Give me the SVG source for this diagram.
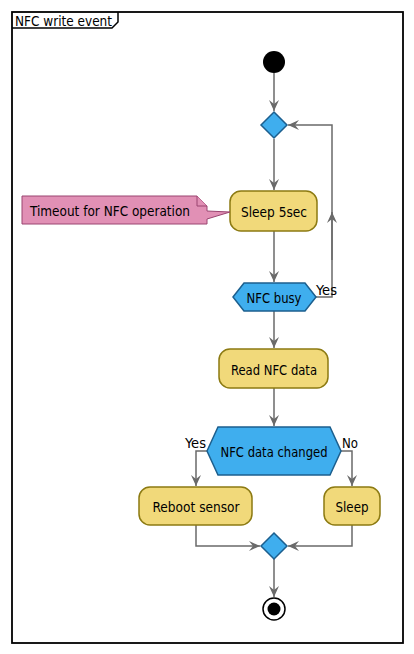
<svg xmlns="http://www.w3.org/2000/svg" width="414" height="654" viewBox="0 0 414 654">
<defs>
<style>
text{font-family:"DejaVu Sans Condensed","DejaVu Sans","Liberation Sans",sans-serif;font-size:14.5px;fill:#000}
.act{fill:#F1D97A;stroke:#8C7A12;stroke-width:1.5}
.dec{fill:#3FAEEE;stroke:#1C5F8E;stroke-width:1.5}
.note{fill:#E190B5;stroke:#9A4470;stroke-width:1}
.ln{fill:none;stroke:#6A6A6A;stroke-width:1.5}
.c{text-anchor:middle}
</style>
<marker id="ah" viewBox="0 0 12 10" refX="11" refY="5" markerWidth="12" markerHeight="10" markerUnits="userSpaceOnUse" orient="auto">
<path d="M0,0 L11,5 L0,10 L4,5 Z" fill="#6A6A6A"/>
</marker>
</defs>
<rect width="414" height="654" fill="#fff"/>
<g id="frame">
<rect x="12" y="12" width="391" height="631" fill="none" stroke="#000" stroke-width="1.8"/>
<path d="M12,28 L112,28 L118,22 L118,12" fill="none" stroke="#000" stroke-width="1.5"/>
<text x="15" y="25.5" textLength="97" lengthAdjust="spacingAndGlyphs">NFC write event</text>
</g>
<g id="connectors">
<line class="ln" x1="274" y1="73" x2="274" y2="111" marker-end="url(#ah)"/>
<line class="ln" x1="274" y1="139" x2="274" y2="190" marker-end="url(#ah)"/>
<line class="ln" x1="274" y1="231" x2="274" y2="282" marker-end="url(#ah)"/>
<path class="ln" d="M316,297 H332 V125 H288" marker-end="url(#ah)"/>
<line class="ln" x1="332" y1="260" x2="332" y2="212" marker-end="url(#ah)"/>
<line class="ln" x1="274" y1="311" x2="274" y2="348" marker-end="url(#ah)"/>
<line class="ln" x1="274" y1="388" x2="274" y2="426" marker-end="url(#ah)"/>
<path class="ln" d="M208,451 H196 V486" marker-end="url(#ah)"/>
<path class="ln" d="M341,451 H352 V486" marker-end="url(#ah)"/>
<path class="ln" d="M196,525 V546 H260" marker-end="url(#ah)"/>
<path class="ln" d="M352,525 V546 H288" marker-end="url(#ah)"/>
<line class="ln" x1="274" y1="559" x2="274" y2="597" marker-end="url(#ah)"/>
<text x="316" y="295" textLength="21" lengthAdjust="spacingAndGlyphs">Yes</text>
<text x="185" y="448" textLength="21" lengthAdjust="spacingAndGlyphs">Yes</text>
<text x="342" y="448" textLength="16" lengthAdjust="spacingAndGlyphs">No</text>
</g>
<g id="start"><circle cx="274" cy="62" r="11" fill="#000"/></g>
<g id="merge1"><polygon class="dec" points="274,112 287,125 274,138 261,125"/></g>
<g id="sleep5"><rect class="act" x="230" y="191" width="87" height="40" rx="11"/><text class="c" x="274" y="217" textLength="66" lengthAdjust="spacingAndGlyphs">Sleep 5sec</text></g>
<g id="note"><path class="note" d="M22,196 H197 L207,206 V211 L230,212 L207,219 V224 H22 Z"/><path class="note" d="M197,196 V206 H207" fill="none"/><text x="30" y="216" textLength="160" lengthAdjust="spacingAndGlyphs">Timeout for NFC operation</text></g>
<g id="nfcbusy"><polygon class="dec" points="233,297 244,283 305,283 316,297 305,311 244,311"/><text class="c" x="274" y="302.5" textLength="55" lengthAdjust="spacingAndGlyphs">NFC busy</text></g>
<g id="readnfc"><rect class="act" x="219" y="349" width="109" height="39" rx="11"/><text class="c" x="274" y="374.5" textLength="86" lengthAdjust="spacingAndGlyphs">Read NFC data</text></g>
<g id="changed"><polygon class="dec" points="207,451 218,427 330,427 341,451 330,475 218,475"/><text class="c" x="274" y="456.5" textLength="107" lengthAdjust="spacingAndGlyphs">NFC data changed</text></g>
<g id="reboot"><rect class="act" x="139" y="487" width="113" height="38" rx="11"/><text class="c" x="196" y="511.5" textLength="87" lengthAdjust="spacingAndGlyphs">Reboot sensor</text></g>
<g id="sleep"><rect class="act" x="324" y="487" width="56" height="38" rx="11"/><text class="c" x="352" y="511.5" textLength="33" lengthAdjust="spacingAndGlyphs">Sleep</text></g>
<g id="merge2"><polygon class="dec" points="274,533 287,546 274,559 261,546"/></g>
<g id="end"><circle cx="274" cy="609" r="11" fill="#fff" stroke="#000" stroke-width="1.5"/><circle cx="274" cy="609" r="6.5" fill="#000"/></g>
</svg>
